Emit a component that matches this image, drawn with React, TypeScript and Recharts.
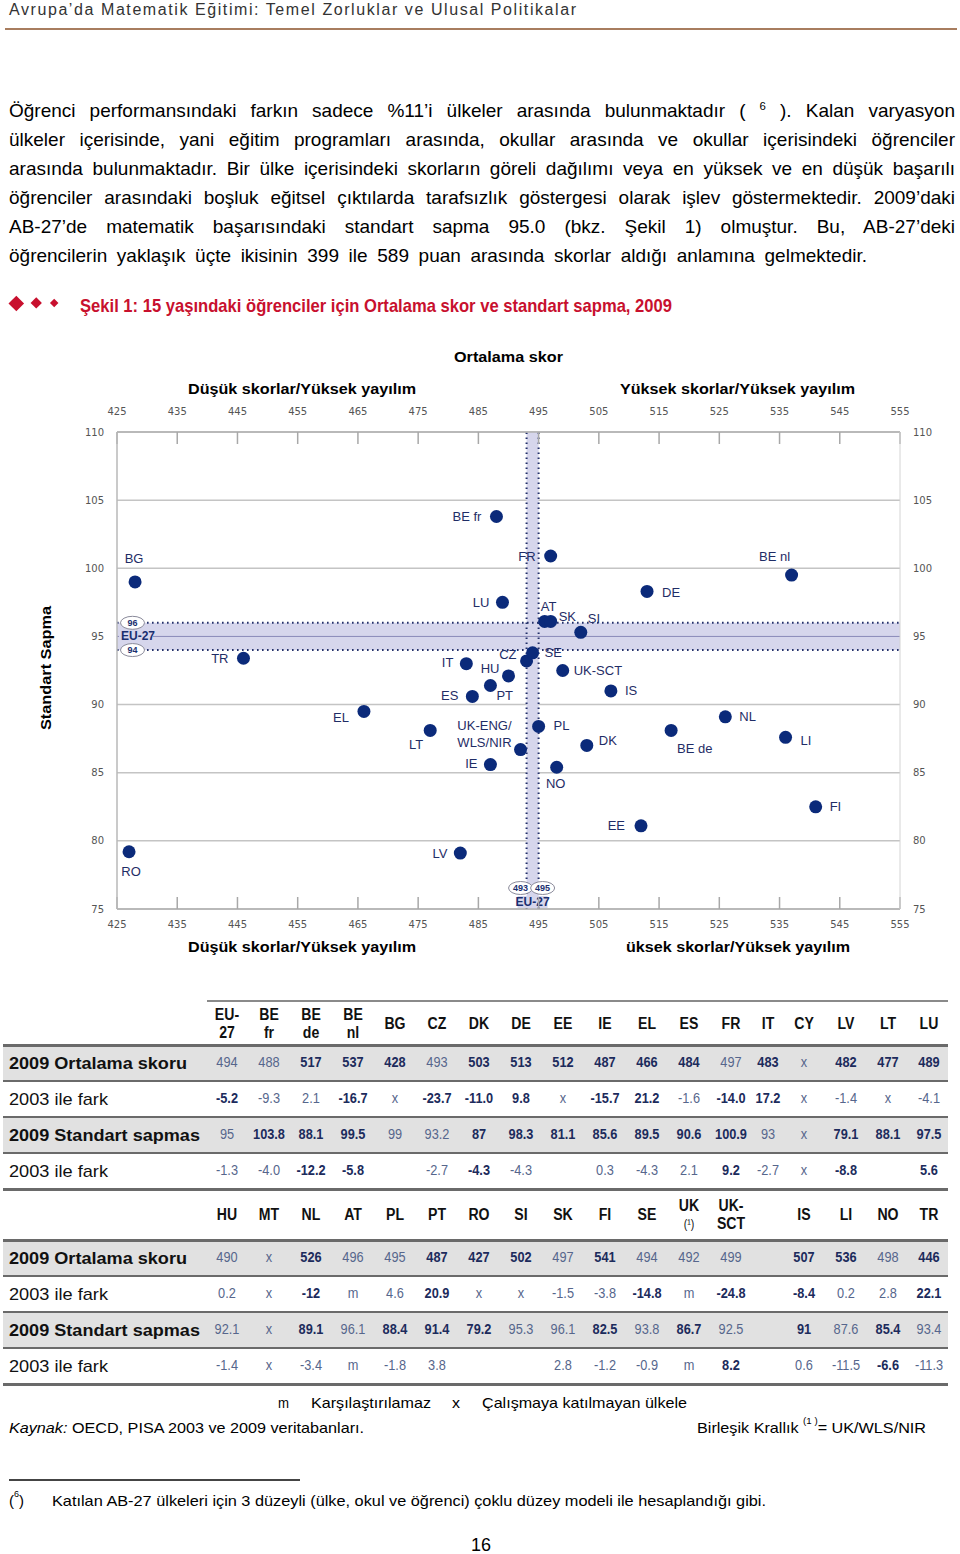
import React from "react";
import {
  ScatterChart,
  Scatter,
  XAxis,
  YAxis,
  CartesianGrid,
  ReferenceArea,
  ReferenceLine,
} from "recharts";

const FONT = '"Liberation Sans", Arial, sans-serif';
const NAVY = "#0b2a7a";
const LINE = "#6a6a6a";

// Table block 1 (EU-27 ... LU). "*" marks values printed in bold (significant)
const codesA = ["EU-27", "BE fr", "BE de", "BE nl", "BG", "CZ", "DK", "DE", "EE", "IE", "EL", "ES", "FR", "IT", "CY", "LV", "LT", "LU"];
const meanA = ["494", "488", "517*", "537*", "428*", "493", "503*", "513*", "512*", "487*", "466*", "484*", "497", "483*", "x", "482*", "477*", "489*"];
const meanDiffA = ["-5.2*", "-9.3", "2.1", "-16.7*", "x", "-23.7*", "-11.0*", "9.8*", "x", "-15.7*", "21.2*", "-1.6", "-14.0*", "17.2*", "x", "-1.4", "x", "-4.1"];
const sdA = ["95", "103.8*", "88.1*", "99.5*", "99", "93.2", "87*", "98.3*", "81.1*", "85.6*", "89.5*", "90.6*", "100.9*", "93", "x", "79.1*", "88.1*", "97.5*"];
const sdDiffA = ["-1.3", "-4.0", "-12.2*", "-5.8*", "", "-2.7", "-4.3*", "-4.3", "", "0.3", "-4.3", "2.1", "9.2*", "-2.7", "x", "-8.8*", "", "5.6*"];

// Table block 2 (HU ... TR), one empty column
const codesB = ["HU", "MT", "NL", "AT", "PL", "PT", "RO", "SI", "SK", "FI", "SE", "UK", "UK-SCT", "", "IS", "LI", "NO", "TR"];
const meanB = ["490", "x", "526*", "496", "495", "487*", "427*", "502*", "497", "541*", "494", "492", "499", "", "507*", "536*", "498", "446*"];
const meanDiffB = ["0.2", "x", "-12*", "m", "4.6", "20.9*", "x", "x", "-1.5", "-3.8", "-14.8*", "m", "-24.8*", "", "-8.4*", "0.2", "2.8", "22.1*"];
const sdB = ["92.1", "x", "89.1*", "96.1", "88.4*", "91.4*", "79.2*", "95.3", "96.1", "82.5*", "93.8", "86.7*", "92.5", "", "91*", "87.6", "85.4*", "93.4"];
const sdDiffB = ["-1.4", "x", "-3.4", "m", "-1.8", "3.8", "", "", "2.8", "-1.2", "-0.9", "m", "8.2*", "", "0.6", "-11.5", "-6.6*", "-11.3"];

const rowLabels = ["2009 Ortalama skoru", "2003 ile fark", "2009 Standart sapmas", "2003 ile fark"];

const xTicks = [425, 435, 445, 455, 465, 475, 485, 495, 505, 515, 525, 535, 545, 555];
const yTicks = [75, 80, 85, 90, 95, 100, 105, 110];
const euMeanRange = [493, 495];
const euSdRange = [94, 96];
const euSd = 95;

const val = (s: string) => parseFloat(s.replace("*", ""));
const allMeans = [...meanA, ...meanB];
const allSds = [...sdA, ...sdB];
const points = [...codesA, ...codesB]
  .map((code, i) => ({ code, x: val(allMeans[i]), y: val(allSds[i]) }))
  .filter((p) => p.code !== "EU-27" && !isNaN(p.x) && !isNaN(p.y));

// label offset from the dot: dx, dy, anchor
const labelPos: Record<string, [number, number, string]> = {
  "BE fr": [-15, 0, "end"],
  BG: [-1, -23, "middle"],
  LU: [-13, 0, "end"],
  FR: [-15, 0, "end"],
  "BE nl": [-17, -19, "middle"],
  DE: [15, 1, "start"],
  AT: [4, -15, "middle"],
  SK: [8, -5, "start"],
  SI: [7, -14, "start"],
  CZ: [-10, -6, "end"],
  SE: [12, 0, "start"],
  IT: [-13, -1, "end"],
  HU: [-9, -7, "end"],
  "UK-SCT": [11, 0, "start"],
  PT: [6, 10, "start"],
  ES: [-14, -1, "end"],
  IS: [14, 0, "start"],
  UK: [-9, -24, "end"],
  PL: [15, -1, "start"],
  DK: [12, -5, "start"],
  IE: [-13, -1, "end"],
  TR: [-15, 0, "end"],
  EL: [-15, 6, "end"],
  LT: [-7, 14, "end"],
  RO: [2, 20, "middle"],
  LV: [-13, 0, "end"],
  NO: [-1, 16, "middle"],
  NL: [14, 0, "start"],
  "BE de": [6, 18, "start"],
  LI: [15, 3, "start"],
  FI: [14, 0, "start"],
  EE: [-16, 0, "end"],
};

const headerLines: Record<string, string[]> = {
  "EU-27": ["EU-", "27"],
  "BE fr": ["BE", "fr"],
  "BE de": ["BE", "de"],
  "BE nl": ["BE", "nl"],
  UK: ["UK", "(¹)"],
  "UK-SCT": ["UK-", "SCT"],
};

const colX = [227, 269, 311, 353, 395, 437, 479, 521, 563, 605, 647, 689, 731, 768, 804, 846, 888, 929];

function Fit({ x, y, w, size, bold, italic, color = "#000", adjust = "spacingAndGlyphs", children }: any) {
  return (
    <svg style={{ position: "absolute", left: x, top: y - size, overflow: "visible" }} width={w} height={size * 2}>
      <text
        x={0}
        y={size}
        dominantBaseline="central"
        fontSize={size}
        fontFamily={FONT}
        fontWeight={bold ? "bold" : "normal"}
        fontStyle={italic ? "italic" : "normal"}
        fill={color}
        textLength={w}
        lengthAdjust={adjust}
      >
        {children}
      </text>
    </svg>
  );
}

function Diamond({ x, y, r }: any) {
  return (
    <div
      style={{
        position: "absolute",
        left: x - r * 0.707,
        top: y - r * 0.707,
        width: r * 1.414,
        height: r * 1.414,
        background: "#c8102e",
        transform: "rotate(45deg)",
      }}
    />
  );
}

function DotShape(props: any) {
  const { cx, cy, payload } = props;
  const [dx, dy, anchor] = labelPos[payload.code] || [12, 0, "start"];
  const lines = payload.code === "UK" ? ["UK-ENG/", "WLS/NIR"] : [payload.code];
  return (
    <g>
      <circle cx={cx} cy={cy} r={6.5} fill={NAVY} />
      {lines.map((t, i) => (
        <text
          key={i}
          x={cx + dx}
          y={cy + dy + i * 17}
          textAnchor={anchor as any}
          dominantBaseline="central"
          fontSize={13}
          fontFamily={FONT}
          fill="#1f2d66"
        >
          {t}
        </text>
      ))}
    </g>
  );
}

function Oval({ cx, cy, text }: any) {
  return (
    <g>
      <ellipse cx={cx} cy={cy} rx={12} ry={6.5} fill="#fff" stroke="#8a8a9a" strokeWidth={1} />
      <text x={cx} y={cy} textAnchor="middle" dominantBaseline="central" fontSize={9} fontWeight="bold" fill="#1a2f70" fontFamily={FONT}>
        {text}
      </text>
    </g>
  );
}

const sideOval = (text: string) => (props: any) => {
  const vb = props.viewBox;
  return <Oval cx={vb.x + 15.5} cy={vb.y} text={text} />;
};

const euSideLabel = (props: any) => {
  const vb = props.viewBox;
  return (
    <g>
      <rect x={vb.x + 2} y={vb.y - 6} width={34} height={12} fill="#d6d6ec" />
      <text x={vb.x + 4} y={vb.y} dominantBaseline="central" fontSize={12} fontWeight="bold" fill="#1a2f70" fontFamily={FONT}>
        EU-27
      </text>
    </g>
  );
};

const bottomOval = (text: string, dx: number, withEu: boolean) => (props: any) => {
  const vb = props.viewBox;
  const bottom = vb.y + vb.height;
  return (
    <g>
      <Oval cx={vb.x + dx} cy={bottom - 21} text={text} />
      {withEu && (
        <g>
          <rect x={vb.x - 9} y={bottom - 13} width={30} height={12} fill="#d6d6ec" />
          <text x={vb.x + 6} y={bottom - 7} textAnchor="middle" dominantBaseline="central" fontSize={12} fontWeight="bold" fill="#1a2f70" fontFamily={FONT}>
            EU-27
          </text>
        </g>
      )}
    </g>
  );
};

const tickStyle = { fontSize: 10, fill: "#555", fontFamily: '"DejaVu Sans", sans-serif' };

function MeanSdChart() {
  return (
    <ScatterChart width={960} height={570} margin={{ top: 22, right: 20, bottom: 11, left: 77 }}>
      <CartesianGrid xAxisId="bottom" yAxisId="left" vertical={false} stroke="#c4c4c4" strokeWidth={1.5} />
      <ReferenceArea xAxisId="bottom" yAxisId="left" y1={euSdRange[0]} y2={euSdRange[1]} fill="#d6d6ec" fillOpacity={1} stroke="none" />
      <ReferenceArea xAxisId="bottom" yAxisId="left" x1={euMeanRange[0]} x2={euMeanRange[1]} fill="#d6d6ec" fillOpacity={1} stroke="none" />
      <ReferenceLine xAxisId="bottom" yAxisId="left" y={euSd} stroke="#8a8ab8" strokeWidth={1} label={euSideLabel} />
      <ReferenceLine xAxisId="bottom" yAxisId="left" y={euSdRange[1]} stroke="#23306a" strokeWidth={2} strokeDasharray="1.6 3.4" label={sideOval(String(euSdRange[1]))} />
      <ReferenceLine xAxisId="bottom" yAxisId="left" y={euSdRange[0]} stroke="#23306a" strokeWidth={2} strokeDasharray="1.6 3.4" label={sideOval(String(euSdRange[0]))} />
      <ReferenceLine xAxisId="bottom" yAxisId="left" x={euMeanRange[0]} stroke="#23306a" strokeWidth={2} strokeDasharray="1.6 3.4" label={bottomOval(String(euMeanRange[0]), -6, true)} />
      <ReferenceLine xAxisId="bottom" yAxisId="left" x={euMeanRange[1]} stroke="#23306a" strokeWidth={2} strokeDasharray="1.6 3.4" label={bottomOval(String(euMeanRange[1]), 4, false)} />
      <XAxis
        xAxisId="top"
        orientation="top"
        type="number"
        dataKey="x"
        domain={[425, 555]}
        ticks={xTicks}
        interval={0}
        allowDataOverflow
        height={30}
        tickSize={-12}
        tickMargin={29}
        tick={tickStyle}
        axisLine={{ stroke: "#b0b0b0", strokeWidth: 1.5 }}
        tickLine={{ stroke: "#a8a8a8", strokeWidth: 1.5 }}
      />
      <XAxis
        xAxisId="bottom"
        orientation="bottom"
        type="number"
        dataKey="x"
        domain={[425, 555]}
        ticks={xTicks}
        interval={0}
        allowDataOverflow
        height={30}
        tickSize={-12}
        tickMargin={23.5}
        tick={tickStyle}
        axisLine={{ stroke: "#b0b0b0", strokeWidth: 1.5 }}
        tickLine={{ stroke: "#a8a8a8", strokeWidth: 1.5 }}
      />
      <YAxis
        yAxisId="left"
        orientation="left"
        type="number"
        dataKey="y"
        domain={[75, 110]}
        ticks={yTicks}
        interval={0}
        allowDataOverflow
        width={40}
        tickSize={0}
        tickLine={false}
        tickMargin={13}
        tick={tickStyle}
        axisLine={{ stroke: "#b8b8b8", strokeWidth: 1.5 }}
      />
      <YAxis
        yAxisId="right"
        orientation="right"
        type="number"
        dataKey="y"
        domain={[75, 110]}
        ticks={yTicks}
        interval={0}
        allowDataOverflow
        width={40}
        tickSize={0}
        tickLine={false}
        tickMargin={13}
        tick={tickStyle}
        axisLine={{ stroke: "#d4d4d4", strokeWidth: 1 }}
      />
      <Scatter xAxisId="bottom" yAxisId="left" data={points} shape={DotShape} isAnimationActive={false} />
    </ScatterChart>
  );
}

function Cell({ x, y, text, bold, size = 14.5, color }: any) {
  return (
    <div
      style={{
        position: "absolute",
        left: x,
        top: y - size * 0.6,
        fontSize: size,
        lineHeight: `${size * 1.2}px`,
        fontWeight: bold ? "bold" : "normal",
        color,
        whiteSpace: "nowrap",
        transform: "translateX(-50%) scaleX(0.88)",
      }}
    >
      {text}
    </div>
  );
}

function TableBlock({ top, headerH, codes, rows, topLine }: any) {
  const rowTop = top + headerH;
  const pitch = 36;
  const labelW = [178, 99, 191, 99];
  const hc = top + headerH / 2 + 1;
  return (
    <>
      {topLine && <div style={{ position: "absolute", left: 207, top: top - 1, width: 741, height: 2, background: "#8a8a8a" }} />}
      {[0, 2].map((r) => (
        <div key={r} style={{ position: "absolute", left: 3, top: rowTop + r * pitch, width: 945, height: pitch, background: "#e1e1e1" }} />
      ))}
      {[0, 1, 2, 3, 4].map((r) => (
        <div
          key={r}
          style={{ position: "absolute", left: 3, top: rowTop + r * pitch - 1, width: 945, height: r === 0 || r === 4 ? 3 : 2, background: LINE }}
        />
      ))}
      {codes.map((c: string, i: number) => {
        const lines = headerLines[c] || [c];
        return lines.map((t, j) => (
          <Cell
            key={`${i}-${j}`}
            x={colX[i]}
            y={lines.length === 1 ? hc : hc + (j === 0 ? -9 : 9)}
            text={t}
            bold={t !== "(¹)"}
            size={t === "(¹)" ? 12 : 16}
            color="#111"
          />
        ));
      })}
      {rows.map((row: string[], r: number) => (
        <React.Fragment key={r}>
          <Fit x={9} y={rowTop + r * pitch + 18} w={labelW[r]} size={17} bold={r % 2 === 0} color="#111">
            {rowLabels[r]}
          </Fit>
          {row.map((v, i) =>
            v ? (
              <Cell
                key={i}
                x={colX[i]}
                y={rowTop + r * pitch + 18}
                text={v.replace("*", "")}
                bold={v.includes("*")}
                color={v.includes("*") ? "#1c2b5c" : "#56668c"}
              />
            ) : null
          )}
        </React.Fragment>
      ))}
    </>
  );
}

const supStyle: React.CSSProperties = { fontSize: "0.6em", verticalAlign: "super", lineHeight: 0 };

const introLines: React.ReactNode[] = [
  <>Öğrenci performansındaki farkın sadece %11’i ülkeler arasında bulunmaktadır ( <span style={supStyle}>6</span> ). Kalan varyasyon</>,
  "ülkeler içerisinde, yani eğitim programları arasında, okullar arasında ve okullar içerisindeki öğrenciler",
  "arasında bulunmaktadır. Bir ülke içerisindeki skorların göreli dağılımı veya en yüksek ve en düşük başarılı",
  "öğrenciler arasındaki boşluk eğitsel çıktılarda tarafsızlık göstergesi olarak işlev göstermektedir. 2009’daki",
  "AB-27’de matematik başarısındaki standart sapma 95.0 (bkz. Şekil 1) olmuştur. Bu, AB-27’deki",
  "öğrencilerin yaklaşık üçte ikisinin 399 ile 589 puan arasında skorlar aldığı anlamına gelmektedir.",
];

export default function App() {
  return (
    <div
      style={{
        position: "absolute",
        left: 0,
        top: 0,
        width: 960,
        height: 1554,
        background: "#fff",
        fontFamily: FONT,
        overflow: "hidden",
        color: "#000",
      }}
    >
      <Fit x={9} y={9} w={567} size={16} color="#333" adjust="spacing">
        Avrupa’da Matematik Eğitimi: Temel Zorluklar ve Ulusal Politikalar
      </Fit>
      <div style={{ position: "absolute", left: 5, top: 28, width: 952, height: 2, background: "#a87d5f" }} />

      <div style={{ position: "absolute", left: 9, top: 95.5, width: 946, fontSize: 19, lineHeight: "29px" }}>
        {introLines.map((l, i) => {
          const last = i === introLines.length - 1;
          return (
            <div key={i} style={{ width: last ? 858 : 946, textAlign: "justify", textAlignLast: "justify", height: 29 }}>
              {l}
            </div>
          );
        })}
      </div>

      <Diamond x={16} y={303} r={7.5} />
      <Diamond x={36.5} y={303} r={6} />
      <Diamond x={54} y={303} r={4.5} />
      <Fit x={80} y={305} w={592} size={19} bold color="#c8102e">
        Şekil 1: 15 yaşındaki öğrenciler için Ortalama skor ve standart sapma, 2009
      </Fit>

      <Fit x={454} y={356} w={109} size={15} bold>Ortalama skor</Fit>
      <Fit x={188} y={388} w={228} size={15} bold>Düşük skorlar/Yüksek yayılım</Fit>
      <Fit x={620} y={388} w={235} size={15} bold>Yüksek skorlar/Yüksek yayılım</Fit>

      <div style={{ position: "absolute", left: 0, top: 380 }}>
        <MeanSdChart />
      </div>

      <Fit x={188} y={946} w={228} size={15} bold>Düşük skorlar/Yüksek yayılım</Fit>
      <Fit x={626} y={946} w={224} size={15} bold>üksek skorlar/Yüksek yayılım</Fit>
      <svg style={{ position: "absolute", left: 30, top: 600 }} width={30} height={136}>
        <text
          x={15}
          y={68}
          transform="rotate(-90 15 68)"
          textAnchor="middle"
          dominantBaseline="central"
          fontSize={15}
          fontWeight="bold"
          fontFamily={FONT}
          textLength={124}
          lengthAdjust="spacingAndGlyphs"
        >
          Standart Sapma
        </text>
      </svg>

      <TableBlock top={1001} headerH={44} codes={codesA} rows={[meanA, meanDiffA, sdA, sdDiffA]} topLine />
      <TableBlock top={1188} headerH={52} codes={codesB} rows={[meanB, meanDiffB, sdB, sdDiffB]} topLine={false} />

      <Fit x={278} y={1402} w={11} size={15}>m</Fit>
      <Fit x={311} y={1402} w={120} size={15}>Karşılaştırılamaz</Fit>
      <Fit x={452} y={1402} w={8} size={15}>x</Fit>
      <Fit x={482} y={1402} w={205} size={15}>Çalışmaya katılmayan ülkele</Fit>
      <Fit x={9} y={1427} w={355} size={15}>
        <tspan fontStyle="italic">Kaynak:</tspan> OECD, PISA 2003 ve 2009 veritabanları.
      </Fit>
      <Fit x={697} y={1427} w={229} size={15}>
        Birleşik Krallık <tspan fontSize={9} dy={-6}>(1 )</tspan><tspan dy={6}>= UK/WLS/NIR</tspan>
      </Fit>

      <div style={{ position: "absolute", left: 9, top: 1479, width: 291, height: 1.5, background: "#444" }} />
      <Fit x={9} y={1500} w={15} size={15}>
        (<tspan fontSize={9} dy={-6}>6</tspan><tspan dy={6}>)</tspan>
      </Fit>
      <Fit x={52} y={1500} w={714} size={15}>
        Katılan AB-27 ülkeleri için 3 düzeyli (ülke, okul ve öğrenci) çoklu düzey modeli ile hesaplandığı  gibi.
      </Fit>
      <Fit x={471} y={1545} w={20} size={18}>16</Fit>
    </div>
  );
}
